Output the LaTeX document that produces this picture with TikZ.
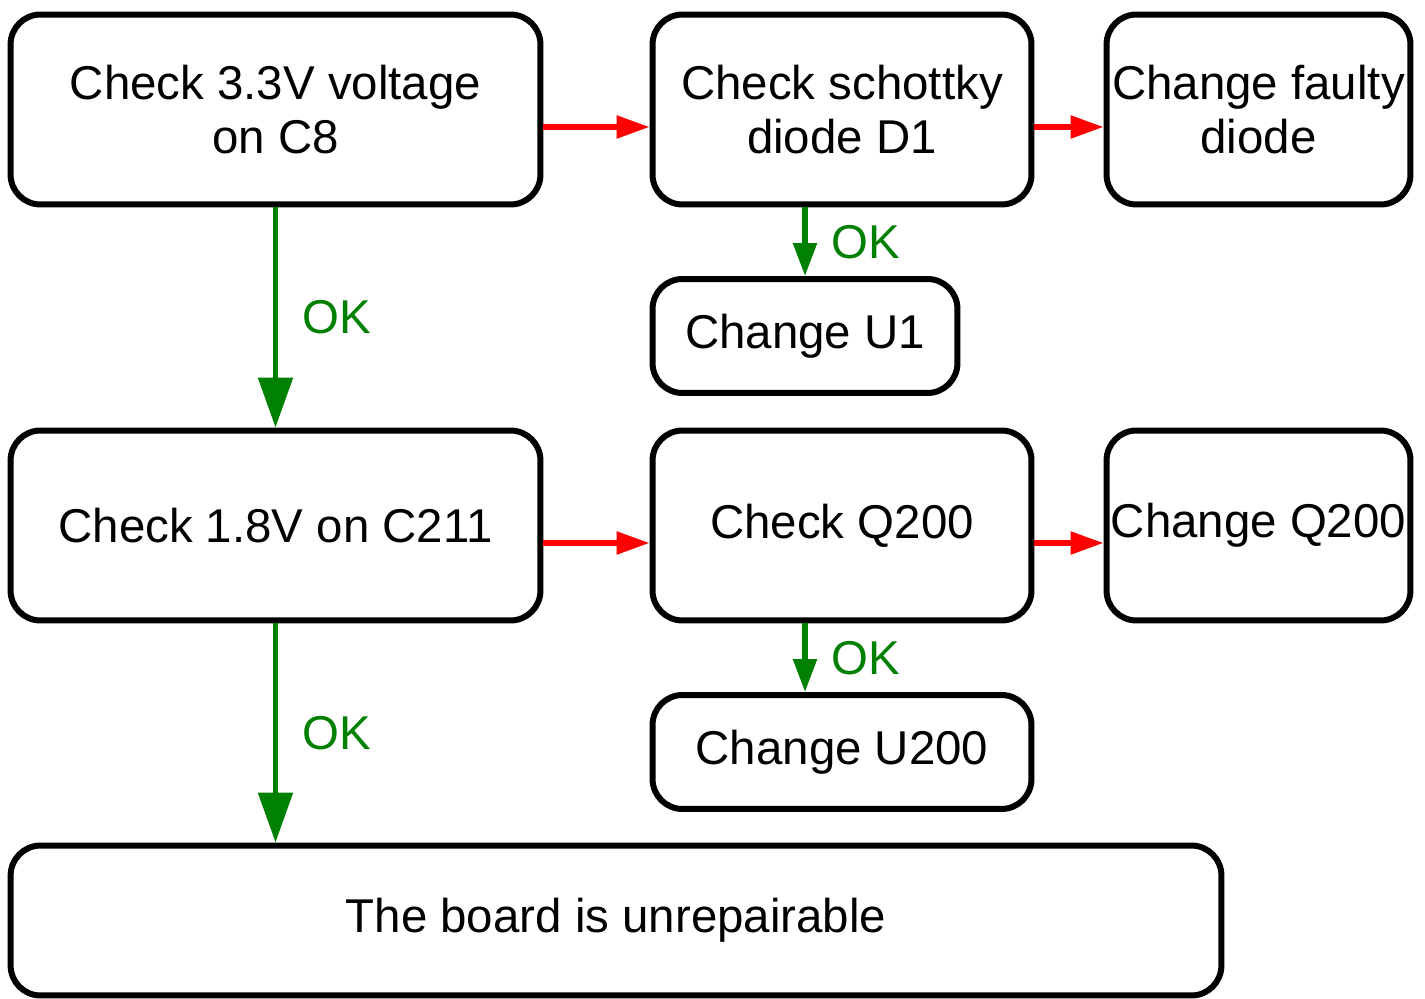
\documentclass[tikz,border=0pt]{standalone}
\usepackage{fontspec}
\setmainfont{Liberation Sans}
\usepackage{tikz}
\usetikzlibrary{positioning, arrows.meta}
\definecolor{okgreen}{RGB}{0,128,0}
\tikzset{
  chk/.style={draw, line width=0.12cm, rounded corners=0.6cm, fill=white, align=center,
              inner sep=0pt, font=\fontsize{27}{31}\selectfont},
  fail/.style={-{Triangle[length=0.66cm, width=0.44cm]}, line width=0.11cm, red},
  pass/.style={-{Triangle[length=1.0cm, width=0.68cm]}, line width=0.11cm, okgreen},
  passsm/.style={-{Triangle[length=0.66cm, width=0.46cm]}, line width=0.11cm, okgreen},
  oklbl/.style={text=okgreen, font=\fontsize{27}{31}\selectfont, inner sep=0pt}
}
\begin{document}
\begin{tikzpicture}[x=0.02cm, y=-0.02cm]
  \useasboundingbox (0,0) rectangle (1425,999);
  % first row
  \node[chk, minimum width=10.6cm, minimum height=3.8cm] (v33) at (275.5,109.5) {Check 3.3V voltage\\on C8};
  \node[chk, minimum width=7.58cm, minimum height=3.8cm] (d1) at (842,109.5) {Check schottky\\diode D1};
  \node[chk, minimum width=6.08cm, minimum height=3.8cm] (newd) at (1258.5,109.5) {Change faulty\\diode};
  \node[chk, minimum width=6.1cm, minimum height=2.28cm] (u1) at (805,336) {Change U1};
  % second row
  \node[chk, minimum width=10.6cm, minimum height=3.8cm] (v18) at (275.5,525.5) {Check 1.8V on C211};
  \node[chk, minimum width=7.58cm, minimum height=3.8cm] (q) at (842,525.5) {Check Q200};
  \node[chk, minimum width=6.08cm, minimum height=3.8cm] (newq) at (1258.5,525.5) {Change Q200};
  \node[chk, minimum width=7.58cm, minimum height=2.28cm] (u200) at (842,752) {Change U200};
  % last
  \node[chk, minimum width=24.22cm, minimum height=3.0cm] (dead) at (616,920.5) {The board is unrepairable};

  \draw[fail] ([yshift=-0.35cm]v33.east) -- ([yshift=-0.35cm]d1.west);
  \draw[fail] ([yshift=-0.35cm]d1.east) -- ([yshift=-0.35cm]newd.west);
  \draw[fail] ([yshift=-0.35cm]v18.east) -- ([yshift=-0.35cm]q.west);
  \draw[fail] ([yshift=-0.35cm]q.east) -- ([yshift=-0.35cm]newq.west);

  \draw[pass] (v33.south) -- node[oklbl, right=0.48cm]{OK} (v18.north);
  \draw[pass] (v18.south) -- node[oklbl, right=0.48cm]{OK} (v18.south |- dead.north);
  \draw[passsm] (u1.north |- d1.south) -- node[oklbl, right=0.48cm]{OK} (u1.north);
  \draw[passsm] (u1.north |- q.south) -- node[oklbl, right=0.48cm]{OK} (u1.north |- u200.north);
\end{tikzpicture}
\end{document}
